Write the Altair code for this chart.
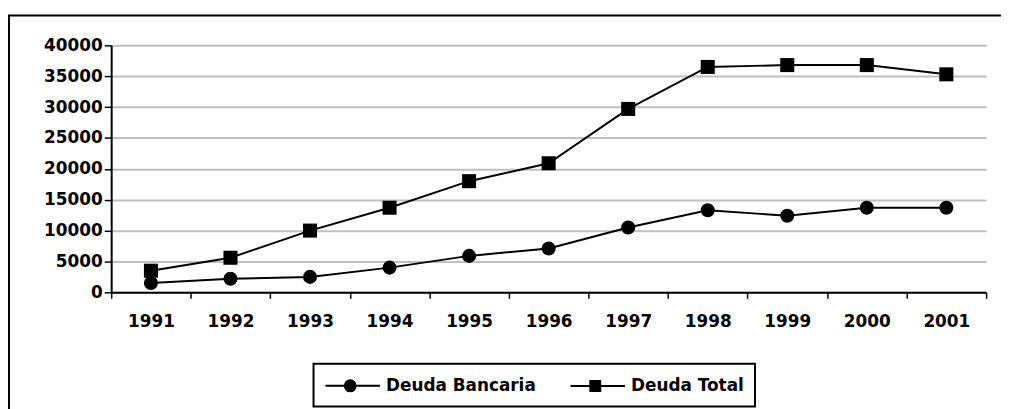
import altair as alt
import pandas as pd

years = ["1991", "1992", "1993", "1994", "1995", "1996", "1997", "1998", "1999", "2000", "2001"]
deuda_bancaria = [1500, 2200, 2500, 4000, 5900, 7100, 10500, 13300, 12400, 13700, 13700]
deuda_total = [3500, 5600, 10000, 13700, 18000, 20900, 29700, 36500, 36800, 36800, 35300]
series = ["Deuda Bancaria", "Deuda Total"]
y_ticks = [0, 5000, 10000, 15000, 20000, 25000, 30000, 35000, 40000]

df = pd.DataFrame({
    "year": years * 2,
    "serie": [series[0]] * len(years) + [series[1]] * len(years),
    "valor": deuda_bancaria + deuda_total,
})

FONT = "DejaVu Sans"

x_enc = alt.X(
    "year:O",
    sort=years,
    bandPosition=0.5,
    scale=alt.Scale(type="band", paddingInner=0, paddingOuter=0),
    axis=alt.Axis(
        title=None, labelAngle=0, tickBand="extent", grid=False,
        labelFont=FONT, labelFontSize=17, labelFontWeight="bold", labelColor="black",
        domainColor="black", domainWidth=2, tickColor="black", tickWidth=1.5, tickSize=6,
        labelPadding=15,
    ),
)
y_enc = alt.Y(
    "valor:Q",
    scale=alt.Scale(domain=[0, 40000], nice=False),
    axis=alt.Axis(
        title=None, values=y_ticks, format="d", grid=True,
        gridColor="#c0c0c0", gridWidth=2,
        labelFont=FONT, labelFontSize=17, labelFontWeight="bold", labelColor="black",
        domainColor="black", domainWidth=2, tickColor="black", tickWidth=1.5, tickSize=7,
        labelPadding=2,
    ),
)

lines = alt.Chart(df).mark_line(color="black", strokeWidth=2).encode(
    x=x_enc, y=y_enc, detail="serie:N"
)

points = alt.Chart(df).mark_point(filled=True, opacity=1, color="black", size=200).encode(
    x=x_enc, y=y_enc,
    shape=alt.Shape("serie:N", scale=alt.Scale(domain=series, range=["circle", "square"]), legend=None),
)


def ring(cx, r):
    return f"M{cx - r:.2f},0A{r:.2f},{r:.2f},0,1,0,{cx + r:.2f},0A{r:.2f},{r:.2f},0,1,0,{cx - r:.2f},0Z"


def box(cx, h):
    return f"M{cx - h:.2f},{-h:.2f}H{cx + h:.2f}V{h:.2f}H{cx - h:.2f}Z"


CX = 1.5
circle_path = "M-1,0H4.5" + "".join(ring(CX, r) for r in [0.55, 0.35, 0.15, 0.05])
square_path = "M-1,0H4.5" + "".join(box(CX, h) for h in [0.5, 0.3, 0.1])

legend_layer = alt.Chart(df).transform_filter("false").mark_point(
    filled=False, opacity=1, color="black", strokeWidth=2, size=400
).encode(
    x=x_enc, y=y_enc,
    shape=alt.Shape(
        "serie:N",
        scale=alt.Scale(domain=series, range=[circle_path, square_path]),
        legend=alt.Legend(
            title=None, orient="none", legendX=204, legendY=321, direction="horizontal",
            strokeColor="black", padding=11, fillColor="white",
            symbolSize=400, symbolStrokeColor="black",
            symbolStrokeWidth=2, symbolOpacity=1,
            labelFont=FONT, labelFontSize=17, labelFontWeight="bold", labelColor="black",
            labelOffset=40, columnPadding=30,
        ),
    ),
)

border = alt.Chart(pd.DataFrame({"k": [0]})).mark_rect(
    fill=None, stroke="black", strokeWidth=2, clip=False
).encode(
    x=alt.value(-103), x2=alt.value(920), y=alt.value(-30), y2=alt.value(420)
)

chart = alt.layer(border, lines, points, legend_layer).resolve_scale(
    shape="independent"
).properties(
    width=882, height=249,
    autosize=alt.AutoSizeParams(type="none"),
    padding={"left": 104, "top": 36, "right": 15, "bottom": 116},
    background="white",
).configure_view(stroke=None).configure_legend(strokeWidth=2)

chart.save("out.html", embed_options={"renderer": "svg", "actions": False})
